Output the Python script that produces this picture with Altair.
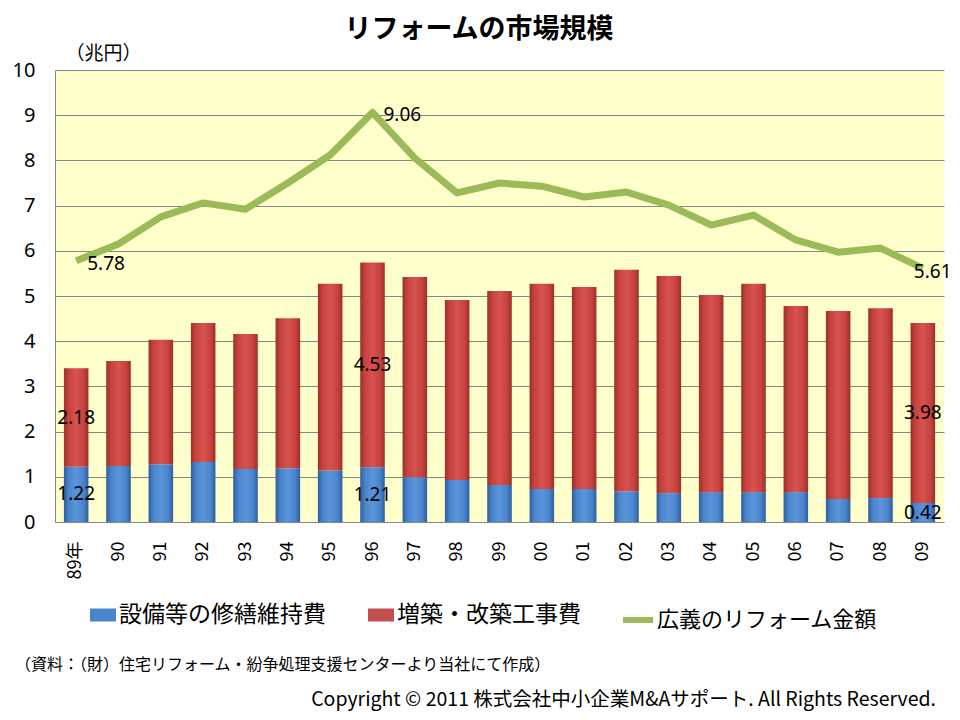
import altair as alt
import pandas as pd

title_text = "リフォームの市場規模"
unit_text = "（兆円）"
source_text = "（資料：（財）住宅リフォーム・紛争処理支援センターより当社にて作成）"
copyright_text = "Copyright © 2011 株式会社中小企業M&Aサポート. All Rights Reserved."

years = ["89年", "90", "91", "92", "93", "94", "95", "96", "97", "98", "99",
         "00", "01", "02", "03", "04", "05", "06", "07", "08", "09"]
repair = [1.22, 1.24, 1.28, 1.33, 1.17, 1.19, 1.14, 1.21, 0.99, 0.93, 0.82,
          0.73, 0.73, 0.68, 0.64, 0.66, 0.66, 0.66, 0.51, 0.53, 0.42]
addition = [2.18, 2.32, 2.75, 3.07, 2.99, 3.32, 4.13, 4.53, 4.43, 3.98, 4.29,
            4.54, 4.47, 4.90, 4.80, 4.36, 4.61, 4.12, 4.16, 4.20, 3.98]
broad = [5.78, 6.15, 6.75, 7.06, 6.92, 7.50, 8.12, 9.06, 8.05, 7.28, 7.50,
         7.43, 7.19, 7.30, 7.01, 6.57, 6.79, 6.24, 5.97, 6.06, 5.61]

s_repair = "設備等の修繕維持費"
s_add = "増築・改築工事費"
s_broad = "広義のリフォーム金額"
y_ticks = [0, 1, 2, 3, 4, 5, 6, 7, 8, 9, 10]
bar_label_years = ["89年", "96", "09"]
line_label_right = ["89年", "96"]
line_label_end = ["09"]

wide = pd.DataFrame({"year": years, "repair": repair, "addition": addition, "broad": broad})
long = pd.DataFrame({
    "year": years + years,
    "series": [s_repair] * len(years) + [s_add] * len(years),
    "value": repair + addition,
    "ord": [0] * len(years) + [1] * len(years),
})
texts = pd.DataFrame({"t": [title_text]})
src = pd.DataFrame({"t": [source_text]})
cpy = pd.DataFrame({"t": [copyright_text]})

JP = "Noto Sans CJK JP"
NUM = "Noto Sans"
GRID = "#868686"

xenc = alt.X("year:N", sort=years,
             scale=alt.Scale(paddingInner=0.42, paddingOuter=0.21),
             axis=alt.Axis(title=None, labelAngle=270, ticks=False, domainColor=GRID,
                           labelFont=JP, labelFontSize=18, labelColor="#000000",
                           labelPadding=19))
yaxis = alt.Axis(title=unit_text, titleAngle=0, titleX=10, titleY=-17, titleAlign="left",
                 titleBaseline="middle", titleFont=JP, titleFontSize=19,
                 titleFontWeight="normal", titleColor="#000000",
                 values=y_ticks, ticks=False, domainColor=GRID, gridColor=GRID,
                 labelFont=NUM, labelFontSize=20, labelColor="#000000", labelPadding=20)
yscale = alt.Scale(domain=[0, 10], nice=False)

blue_grad = {"gradient": "linear", "x1": 0, "x2": 1, "y1": 0, "y2": 0,
             "stops": [{"offset": 0, "color": "#2F5E9C"},
                       {"offset": 0.2, "color": "#4A84CC"},
                       {"offset": 0.5, "color": "#5A95DC"},
                       {"offset": 0.8, "color": "#4A84CC"},
                       {"offset": 1, "color": "#2F5E9C"}]}
red_grad = {"gradient": "linear", "x1": 0, "x2": 1, "y1": 0, "y2": 0,
            "stops": [{"offset": 0, "color": "#9B2F2C"},
                      {"offset": 0.2, "color": "#C8423F"},
                      {"offset": 0.5, "color": "#D65350"},
                      {"offset": 0.8, "color": "#C8423F"},
                      {"offset": 1, "color": "#9B2F2C"}]}

bars = alt.Chart(long).mark_bar().encode(
    x=xenc,
    y=alt.Y("value:Q", stack="zero", scale=yscale, axis=yaxis),
    color=alt.Color("series:N",
                    scale=alt.Scale(domain=[s_repair, s_add], range=["#4A84CC", "#C0504D"]),
                    legend=alt.Legend(title=None, orient="none", legendX=35, legendY=532,
                                      direction="horizontal",
                                      symbolType="M-1,-0.5H1V0.5H-1Z", symbolSize=676,
                                      symbolStrokeWidth=0, labelFont=JP, labelFontSize=23,
                                      labelColor="#000000", labelOffset=3, labelLimit=400,
                                      columnPadding=42, padding=0),
                    condition=[{"test": "datum.ord == 0", "value": blue_grad},
                               {"test": "datum.ord == 1", "value": red_grad}]),
    order=alt.Order("ord:Q"),
)

line = alt.Chart(wide).transform_calculate(lname="'" + s_broad + "'").mark_line(
    strokeWidth=7, strokeJoin="round"
).encode(
    x=xenc,
    y=alt.Y("broad:Q", scale=yscale, axis=yaxis),
    stroke=alt.Stroke("lname:N",
                      scale=alt.Scale(domain=[s_broad], range=["#9BBB59"]),
                      legend=alt.Legend(title=None, orient="none", legendX=565, legendY=532,
                                        symbolType="stroke", symbolSize=900,
                                        symbolStrokeWidth=6, labelFont=JP, labelFontSize=22,
                                        labelColor="#000000", labelOffset=1, labelLimit=400,
                                        padding=0)),
)

blue_lab = alt.Chart(wide).transform_filter(
    alt.FieldOneOfPredicate(field="year", oneOf=bar_label_years)
).transform_calculate(mid="datum.repair / 2").mark_text(
    font=NUM, fontSize=19, color="#000000"
).encode(x=xenc, y=alt.Y("mid:Q", scale=yscale, axis=yaxis), text=alt.Text("repair:Q", format=".2f"))

red_lab = alt.Chart(wide).transform_filter(
    alt.FieldOneOfPredicate(field="year", oneOf=bar_label_years)
).transform_calculate(mid="datum.repair + datum.addition / 2").mark_text(
    font=NUM, fontSize=19, color="#000000"
).encode(x=xenc, y=alt.Y("mid:Q", scale=yscale, axis=yaxis), text=alt.Text("addition:Q", format=".2f"))

line_lab1 = alt.Chart(wide).transform_filter(
    alt.FieldOneOfPredicate(field="year", oneOf=line_label_right)
).mark_text(font=NUM, fontSize=19, color="#000000", align="left", dx=11, dy=3).encode(
    x=xenc, y=alt.Y("broad:Q", scale=yscale, axis=yaxis), text=alt.Text("broad:Q", format=".2f"))

line_lab2 = alt.Chart(wide).transform_filter(
    alt.FieldOneOfPredicate(field="year", oneOf=line_label_end)
).mark_text(font=NUM, fontSize=19, color="#000000", align="left", dx=-9, dy=4).encode(
    x=xenc, y=alt.Y("broad:Q", scale=yscale, axis=yaxis), text=alt.Text("broad:Q", format=".2f"))

title = alt.Chart(texts).mark_text(font=JP, fontSize=27, fontWeight="bold", color="#000000",
                                   align="center", baseline="middle").encode(
    x=alt.value(424), y=alt.value(-40), text="t:N")
source = alt.Chart(src).mark_text(font=JP, fontSize=16, color="#000000",
                                  align="left", baseline="middle").encode(
    x=alt.value(-40), y=alt.value(595), text="t:N")
copyright_ = alt.Chart(cpy).mark_text(font=JP, fontSize=19.5, color="#000000",
                                      align="right", baseline="middle").encode(
    x=alt.value(881), y=alt.value(630), text="t:N")

chart = alt.layer(bars, line, blue_lab, red_lab, line_lab1, line_lab2, title, source, copyright_).resolve_scale(
    color="independent", stroke="independent"
).properties(
    width=889, height=452,
    autosize=alt.AutoSizeParams(type="none"),
    padding={"left": 47, "top": 62, "right": 8, "bottom": 190},
    background="#FFFFFF",
).configure_view(fill="#FFFFCC", stroke=None)

chart.save("out.html", embed_options={"renderer": "svg", "actions": False})
